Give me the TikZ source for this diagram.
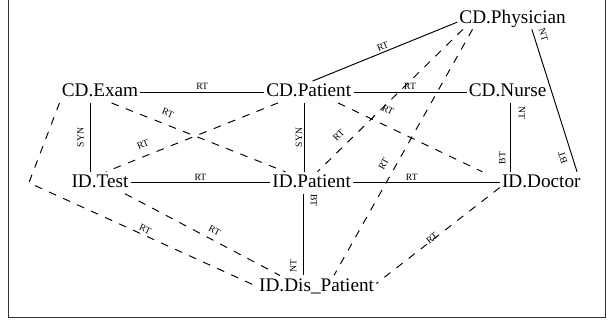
\documentclass[tikz,border=0pt]{standalone}
\usepackage{fontspec}
\setmainfont{Liberation Serif}
\usetikzlibrary{positioning}

\begin{document}
\begin{tikzpicture}[
        x=0.52pt, y=-0.52pt,
        term/.style={rectangle, inner sep=1pt, text height=7pt, text depth=2pt, font=\fontsize{10}{12}\selectfont},
        tag/.style={font=\fontsize{5}{6}\selectfont, inner sep=1pt, sloped},
        rel/.style={draw, line width=0.5pt},
        assoc/.style={draw, line width=0.5pt, dash pattern=on 4pt off 4pt}
    ]
    \useasboundingbox (0,0) rectangle (608,321);
    \draw [line width=0.6pt, black!80] (8.5,0) -- (8.5,317.5) -- (605.5,317.5) -- (605.5,0);

    % Nodes
    \node (cdexam) [term] at (100,92) {CD.Exam};
    \node (cdpatient) [term, right=64.2pt of cdexam] {CD.Patient};
    \node (cdnurse) [term, right=58.8pt of cdpatient] {CD.Nurse};
    \node (cdphysician) [term, above=26.9pt of cdnurse, xshift=2.6pt] {CD.Physician};
    \node (idtest) [term, below=35.8pt of cdexam] {ID.Test};
    \node (idpatient) [term, below=35.8pt of cdpatient, xshift=1.5pt] {ID.Patient};
    \node (iddoctor) [term, right=76.2pt of idpatient] {ID.Doctor};
    \node (iddispatient) [term, below=42.5pt of idpatient, xshift=2.6pt] {ID.Dis\_Patient};
    \coordinate (loopcorner) at ([xshift=-21pt]idtest.west);

    % Solid relations
    \draw [rel] (cdexam) -- node [tag, above] {RT} (cdpatient);
    \draw [rel] (cdpatient) -- node [tag, above] {RT} (cdnurse);
    \draw [rel] ([xshift=2pt]cdpatient.north) -- node [tag, above] {RT} ([yshift=-2pt]cdphysician.west);
    \draw [rel] (idtest) -- node [tag, above] {RT} (idpatient);
    \draw [rel] (idpatient) -- node [tag, above, pos=.4] {RT} (iddoctor);
    \draw [rel] ([xshift=-5.2pt]idtest.north) -- node [tag, above=2pt] {SYN} ([xshift=-5.2pt]idtest.north |- cdexam.south);
    \draw [rel] ([xshift=-3.6pt]idpatient.north) -- node [tag, above] {SYN} ([xshift=-3.6pt]idpatient.north |- cdpatient.south);
    \draw [rel] ([xshift=-4.2pt]idpatient.south) -- node [tag, above=2.5pt, pos=.08] {BT} ([xshift=-4.2pt]idpatient.south |- iddispatient.north);
    \path ([xshift=-4.2pt]idpatient.south |- iddispatient.north) -- node [tag, allow upside down, above=2.5pt, pos=.11] {NT} ([xshift=-4.2pt]idpatient.south);
    \draw [rel] ([xshift=1.6pt]cdnurse.south) -- node [tag, above=3pt, pos=.15] {NT} ([xshift=1.6pt]cdnurse.south |- iddoctor.north);
    \path ([xshift=1.6pt]cdnurse.south |- iddoctor.north) -- node [tag, allow upside down, above=1.5pt, pos=.2] {BT} ([xshift=1.6pt]cdnurse.south);
    \draw [rel] ([xshift=10pt]cdphysician.south) -- node [tag, above=2pt, pos=.06] {NT} ([xshift=-3pt]iddoctor.north east);
    \path ([xshift=-3pt]iddoctor.north east) -- node [tag, allow upside down, above=2pt, pos=.12] {BT} ([xshift=10pt]cdphysician.south);

    % Dashed relations
    \draw [assoc] ([xshift=6pt]cdexam.south) -- node [tag, above=3pt, pos=.3] {RT} ([xshift=8pt]idpatient.north west);
    \draw [assoc] ([xshift=-16pt]cdpatient.south) -- node [tag, above=3pt, pos=.76] {RT} ([xshift=3pt]idtest.north);
    \draw [assoc] (cdexam.south west) -- (loopcorner) -- node [tag, above] {RT} (iddispatient.west);
    \draw [assoc] ([xshift=-3pt]idtest.south east) -- node [tag, above=2pt, pos=.55] {RT} ([xshift=12pt]iddispatient.north west);
    \draw [assoc] ([xshift=-8pt]cdpatient.south east) -- node [tag, above=5pt, pos=.3] {RT} ([xshift=-9pt]iddoctor.north west);
    \draw [assoc] ([xshift=3pt]cdphysician.south west) -- node [tag, above=3pt, pos=.8] {RT} ([xshift=3pt]idpatient.north);
    \draw [assoc] ([xshift=8pt]cdphysician.south west) -- node [tag, above=3pt, pos=.57] {RT} ([xshift=9pt]iddispatient.north);
    \draw [assoc] ([yshift=-2.5pt]iddoctor.west) -- node [tag, above=-2pt, pos=.54] {RT} ([yshift=1.5pt]iddispatient.east);
\end{tikzpicture}
\end{document}
